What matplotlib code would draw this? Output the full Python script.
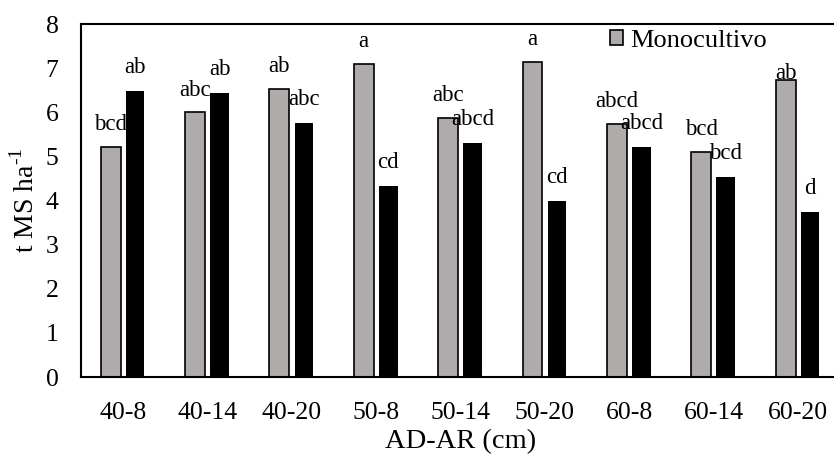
import numpy as np
import matplotlib
matplotlib.use("Agg")
import matplotlib.pyplot as plt

plt.rcParams['font.family'] = ['Liberation Serif', 'DejaVu Serif']
plt.rcParams['mathtext.fontset'] = 'custom'
plt.rcParams['mathtext.rm'] = 'Liberation Serif'

# datos
categorias = ['40-8', '40-14', '40-20', '50-8', '50-14', '50-20', '60-8', '60-14', '60-20']
monocultivo = [5.21, 6.00, 6.53, 7.10, 5.87, 7.15, 5.74, 5.11, 6.72]
asociado = [6.49, 6.44, 5.76, 4.32, 5.30, 3.98, 5.21, 4.53, 3.74]
letras_mono = ['bcd', 'abc', 'ab', 'a', 'abc', 'a', 'abcd', 'bcd', 'ab']
letras_asoc = ['ab', 'ab', 'abc', 'cd', 'abcd', 'cd', 'abcd', 'bcd', 'd']

fig = plt.figure(figsize=(8.34, 4.54), dpi=100)
ax = fig.add_axes([0.0968, 0.1696, 0.9104, 0.7775])

x = np.arange(len(categorias))
ancho = 0.235
b1 = ax.bar(x - 0.145, monocultivo, ancho, color='#afabab', edgecolor='black', linewidth=1.2, label='Monocultivo')
b2 = ax.bar(x + 0.145, asociado, ancho - 0.015, color='black')

# letras encima de las barras
for i in range(len(x)):
    dy = 16 if i != 8 else 5
    ax.annotate(letras_mono[i], (x[i] - 0.145, monocultivo[i]), xytext=(0, dy),
                textcoords='offset points', ha='center', va='center', fontsize=16.5)
    ax.annotate(letras_asoc[i], (x[i] + 0.145, asociado[i]), xytext=(0, 17),
                textcoords='offset points', ha='center', va='center', fontsize=16.5)

ax.set_xlim(-0.5, 8.5)
ax.set_ylim(0, 8)
ax.set_yticks(range(0, 9))
ax.set_xticks(x)
ax.set_xticklabels(categorias)
ax.tick_params(length=0, labelsize=18.5)
ax.tick_params(axis='x', pad=18)
ax.tick_params(axis='y', pad=16)
for s in ax.spines.values():
    s.set_linewidth(1.5)

ax.set_xlabel('AD-AR (cm)', fontsize=20.5, labelpad=4)
ax.set_ylabel(r't MS ha$^{\text{-1}}$', fontsize=20, labelpad=4)

ax.legend(handles=[b1], loc='center left', bbox_to_anchor=(0.68, 0.953), frameon=False,
          fontsize=19, handlelength=0.5, handleheight=0.5, handletextpad=0.25, borderpad=0)

fig.savefig('out.png', dpi=100)
